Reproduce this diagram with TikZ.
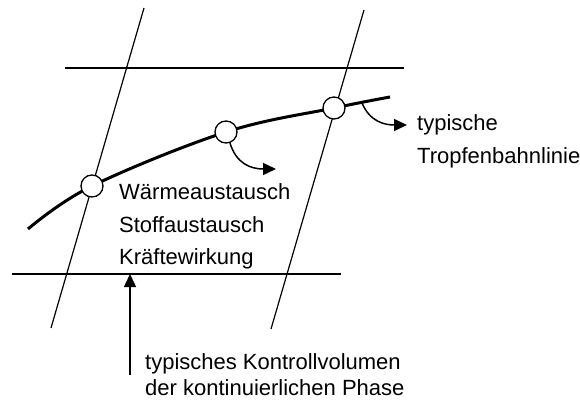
\documentclass[tikz,border=0pt]{standalone}
\usepackage{fontspec}
\setmainfont{Liberation Sans}
\usetikzlibrary{arrows.meta}
\begin{document}
\begin{tikzpicture}[x=1pt,y=-1pt,
  thinline/.style={line width=1.2pt},
  path/.style={line width=3pt},
  bubble/.style={circle,draw,line width=1.3pt,fill=white,minimum size=22pt,inner sep=0pt},
  flow/.style={line width=1.5pt,-{Triangle[length=13pt,width=12pt]}},
  lbl/.style={anchor=base west,inner sep=0pt,font=\fontsize{22}{26}\selectfont}]
\useasboundingbox (0,0) rectangle (580,403);
% grid lines
\coordinate (L1) at (144,8);  \coordinate (L2) at (51,328);
\coordinate (R1) at (364,10); \coordinate (R2) at (271,329);
\coordinate (T1) at (65,68);  \coordinate (T2) at (404,68);
\coordinate (B1) at (12,274); \coordinate (B2) at (341,274);
\draw[thinline] (L1) -- (L2);
\draw[thinline] (R1) -- (R2);
\draw[thinline] (T1) -- (T2);
\draw[thinline] (B1) -- (B2);
% trajectory
\draw[path] plot[smooth,tension=0.6] coordinates {(28,229) (92,186) (226,132) (334,108) (390,97)};
\node[bubble] (c1) at (92,186) {};
\node[bubble] (c2) at (226,132) {};
\node[bubble] (c3) at (334,108) {};
% arrows
\coordinate (a2) at (362,103);
\draw[flow] (c2.290) .. controls (236,163) and (250,169) .. (276,169);
\draw[flow] (a2) .. controls (370,122) and (385,125) .. (407,125);
\coordinate (v0) at (130,375);
\coordinate (v1) at (130,274);
\draw[flow] (v0) -- (v1);
% labels
\node[lbl] (w1) at (119,200) {Wärmeaustausch};
\node[lbl] (w2) at (119,232.5) {Stoffaustausch};
\node[lbl] (w3) at (119,264.5) {Kräftewirkung};
\node[lbl] (t1) at (417,131) {typische};
\node[lbl] (t2) at (417,163.5) {Tropfenbahnlinie};
\node[lbl] (k1) at (145,369) {typisches Kontrollvolumen};
\node[lbl] (k2) at (145,395) {der kontinuierlichen Phase};
\end{tikzpicture}
\end{document}
